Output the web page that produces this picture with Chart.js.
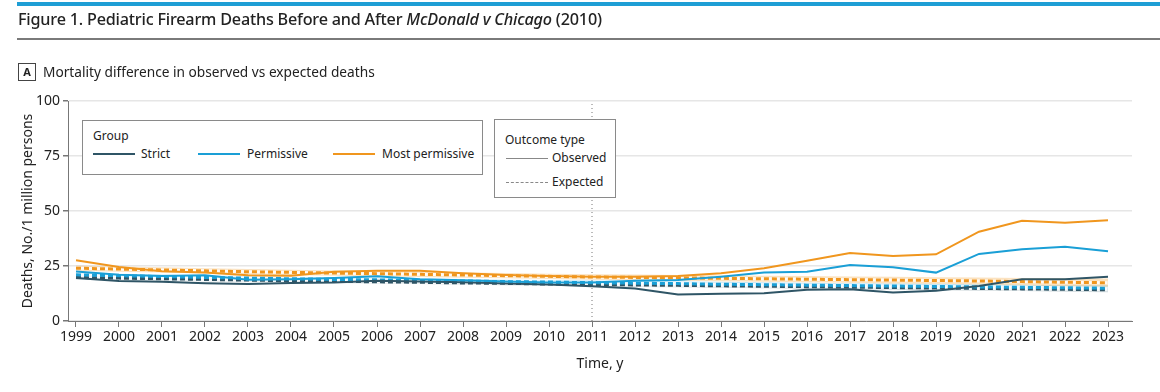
<!DOCTYPE html>
<html>
<head>
<meta charset="utf-8">
<script src="https://cdn.jsdelivr.net/npm/chart.js@4.4.1/dist/chart.umd.min.js"></script>
<style>
  body { margin: 0; background: #fff; font-family: "Noto Sans", sans-serif; color: #222; }
  #wrap { position: relative; width: 1160px; height: 392px; overflow: hidden; }
  #chart { position: absolute; left: 0; top: 0; }
  .abs { position: absolute; white-space: nowrap; }
  .box { position: absolute; background: #fff; border: 1px solid #8a8a8a; font-size: 12px; }
  .sw { position: absolute; height: 0; width: 42px; }
</style>
</head>
<body>
<div id="wrap">
  <canvas id="chart" width="1160" height="392"></canvas>
  <div class="abs" style="left:17px;top:2px;width:1143px;height:4px;background:#1e9ed5"></div>
  <div class="abs" style="left:18px;top:8px;font-size:16.2px;font-weight:500;letter-spacing:-0.2px">Figure 1. Pediatric Firearm Deaths Before and After <i>McDonald v Chicago</i> (2010)</div>
  <div class="abs" style="left:17px;top:38px;width:1143px;height:2px;background:#7a7a7a"></div>
  <div class="abs" style="left:18px;top:63px;width:16px;height:16px;border:1px solid #444;font-size:11px;font-weight:700;text-align:center;line-height:16px">A</div>
  <div class="abs" style="left:43px;top:62px;font-size:13.7px">Mortality difference in observed vs expected deaths</div>

  <div class="box" style="left:82px;top:120px;width:399px;height:53px">
    <span class="abs" style="left:10px;top:6px">Group</span>
    <div class="sw" style="left:10px;top:32px;border-top:2px solid #2f5566"></div>
    <span class="abs" style="left:58px;top:24px">Strict</span>
    <div class="sw" style="left:115px;top:32px;border-top:2px solid #1a9fd6"></div>
    <span class="abs" style="left:164px;top:24px">Permissive</span>
    <div class="sw" style="left:250px;top:32px;border-top:2px solid #f0961e"></div>
    <span class="abs" style="left:299px;top:24px">Most permissive</span>
  </div>
  <div class="box" style="left:494px;top:119px;width:120px;height:77px">
    <span class="abs" style="left:10px;top:11px">Outcome type</span>
    <div class="sw" style="left:11px;top:38px;border-top:1px solid #888"></div>
    <span class="abs" style="left:57px;top:29px">Observed</span>
    <div class="sw" style="left:11px;top:62px;border-top:1px dashed #888"></div>
    <span class="abs" style="left:57px;top:53px">Expected</span>
  </div>
</div>
<script>
const years = [1999, 2000, 2001, 2002, 2003, 2004, 2005, 2006, 2007, 2008, 2009, 2010, 2011,
  2012, 2013, 2014, 2015, 2016, 2017, 2018, 2019, 2020, 2021, 2022, 2023];
const yTicks = [0, 25, 50, 75, 100];
const policyYear = 2011;

// observed deaths per 1 million
const strictObs = [19.5, 18.2, 17.8, 17.2, 16.8, 17.3, 17.5, 18.3, 18.0, 17.6, 17.1, 16.6, 15.8,
  14.8, 12.1, 12.4, 12.6, 14.2, 14.4, 13.0, 13.8, 15.9, 19.0, 19.0, 20.1];
const permObs = [22.5, 21.0, 20.5, 20.8, 18.8, 19.0, 19.5, 20.3, 19.0, 18.5, 18.0, 17.5, 17.5,
  18.3, 18.6, 20.1, 22.0, 22.4, 25.5, 24.4, 22.0, 30.5, 32.6, 33.8, 31.7];
const mostObs = [27.6, 24.5, 22.6, 22.0, 20.8, 20.6, 22.4, 22.8, 22.8, 21.7, 20.9, 20.5, 20.1,
  20.1, 20.5, 21.7, 24.0, 27.4, 30.9, 29.5, 30.3, 40.6, 45.6, 44.7, 45.8];

// expected deaths and their bands
const strictExp = [19.8, 19.5, 19.2, 18.9, 18.6, 18.3, 18.1, 17.8, 17.6, 17.3, 17.1, 16.8, 16.6,
  16.4, 16.2, 16.0, 15.8, 15.6, 15.4, 15.2, 15.0, 14.8, 14.6, 14.4, 14.2];
const strictHi = [20.6, 20.3, 20.0, 19.7, 19.4, 19.1, 18.9, 18.6, 18.4, 18.1, 17.9, 17.6, 17.5,
  17.3, 17.1, 16.9, 16.7, 16.5, 16.3, 16.2, 16.0, 15.8, 15.6, 15.5, 15.3];
const strictLo = [19.0, 18.7, 18.4, 18.1, 17.8, 17.5, 17.3, 17.0, 16.8, 16.5, 16.3, 16.0, 15.7,
  15.5, 15.3, 15.1, 14.9, 14.7, 14.5, 14.2, 14.0, 13.8, 13.6, 13.3, 13.1];
const permExp = [21.0, 20.6, 20.2, 19.8, 19.5, 19.2, 18.9, 18.7, 18.4, 18.2, 17.9, 17.7, 17.4,
  17.2, 17.0, 16.7, 16.5, 16.3, 16.1, 15.9, 15.7, 15.5, 15.3, 15.1, 14.9];
const permHi = [21.9, 21.5, 21.1, 20.7, 20.4, 20.1, 19.8, 19.6, 19.3, 19.1, 18.8, 18.6, 18.4,
  18.2, 18.0, 17.8, 17.6, 17.4, 17.2, 17.0, 16.9, 16.7, 16.5, 16.3, 16.2];
const permLo = [20.1, 19.7, 19.3, 18.9, 18.6, 18.3, 18.0, 17.8, 17.5, 17.3, 17.0, 16.8, 16.4,
  16.2, 16.0, 15.6, 15.4, 15.2, 15.0, 14.8, 14.5, 14.3, 14.1, 13.9, 13.6];
const mostExp = [24.0, 23.6, 23.2, 22.8, 22.4, 22.1, 21.8, 21.5, 21.2, 20.9, 20.6, 20.3, 20.0,
  19.8, 19.6, 19.4, 19.2, 19.0, 18.8, 18.6, 18.4, 18.2, 17.9, 17.6, 17.4];
const mostHi = [25.2, 24.8, 24.4, 24.0, 23.6, 23.3, 23.0, 22.7, 22.4, 22.1, 21.8, 21.5, 21.3,
  21.1, 20.9, 20.7, 20.6, 20.4, 20.2, 20.1, 19.9, 19.8, 19.6, 19.4, 19.3];
const mostLo = [22.8, 22.4, 22.0, 21.6, 21.2, 20.9, 20.6, 20.3, 20.0, 19.7, 19.4, 19.1, 18.7,
  18.5, 18.3, 18.1, 17.8, 17.6, 17.4, 17.1, 16.9, 16.6, 16.2, 15.8, 15.5];

const colStrict = '#2f5566', colPerm = '#1a9fd6', colMost = '#f0961e';

const pts = arr => arr.map((v, i) => ({ x: years[i], y: v }));

function band(hi, lo, fillColor) {
  return [
    { data: pts(hi), borderWidth: 0, pointRadius: 0, fill: '+1', backgroundColor: fillColor, order: 4 },
    { data: pts(lo), borderWidth: 0, pointRadius: 0, fill: false, order: 4 }
  ];
}
function expected(arr, color) {
  return [
    { data: pts(arr), borderColor: color, borderWidth: 3, borderDash: [5, 3], pointRadius: 0, fill: false, order: 2 },
    { data: pts(arr), borderColor: 'rgba(255,255,255,0.85)', borderWidth: 3, pointRadius: 0, fill: false, order: 3 }
  ];
}
function observed(arr, color) {
  return { data: pts(arr), borderColor: color, borderWidth: 2, pointRadius: 0, fill: false, order: 1 };
}

const datasets = [
  ...band(mostHi, mostLo, 'rgba(240,150,30,0.28)'),
  ...band(permHi, permLo, 'rgba(26,159,214,0.25)'),
  ...band(strictHi, strictLo, 'rgba(47,85,102,0.22)'),
  ...expected(mostExp, colMost),
  ...expected(permExp, colPerm),
  ...expected(strictExp, colStrict),
  observed(mostObs, colMost),
  observed(permObs, colPerm),
  observed(strictObs, colStrict),
  { data: [{ x: policyYear, y: 0 }, { x: policyYear, y: 100 }], borderColor: '#777', borderWidth: 1,
    borderDash: [1, 3], pointRadius: 0, fill: false, order: 5 }
];

const tickFont = { family: 'Noto Sans', size: 14 };

new Chart(document.getElementById('chart').getContext('2d'), {
  type: 'line',
  data: { datasets },
  options: {
    responsive: false,
    animation: false,
    layout: { padding: { top: 101, right: 28, left: 0, bottom: 20 } },
    plugins: { legend: { display: false }, tooltip: { enabled: false } },
    scales: {
      x: {
        type: 'linear',
        min: 1998.814,
        max: 2023.558,
        afterBuildTicks: s => { s.ticks = years.map(v => ({ value: v })); },
        afterFit: s => { s.height = 51; },
        ticks: { font: tickFont, color: '#222', padding: 2, maxRotation: 0, autoSkip: false, callback: v => String(v) },
        grid: { drawOnChartArea: false, drawTicks: true, tickLength: 6, tickColor: '#777' },
        border: { color: '#777', width: 1 },
        title: { display: true, text: 'Time, y', font: tickFont, color: '#222', padding: { top: 0, bottom: 0 } }
      },
      y: {
        min: 0,
        max: 100,
        afterBuildTicks: s => { s.ticks = yTicks.map(v => ({ value: v })); },
        afterFit: s => { s.width = 68; },
        ticks: { font: tickFont, color: '#222', padding: 3 },
        grid: { color: '#e6e6e6', lineWidth: 1.5, tickLength: 5, tickColor: '#777' },
        border: { color: '#777', width: 1 },
        title: { display: true, text: 'Deaths, No./1 million persons', font: tickFont, color: '#222', padding: { top: 20, bottom: 0 } }
      }
    }
  }
});
</script>
</body>
</html>
